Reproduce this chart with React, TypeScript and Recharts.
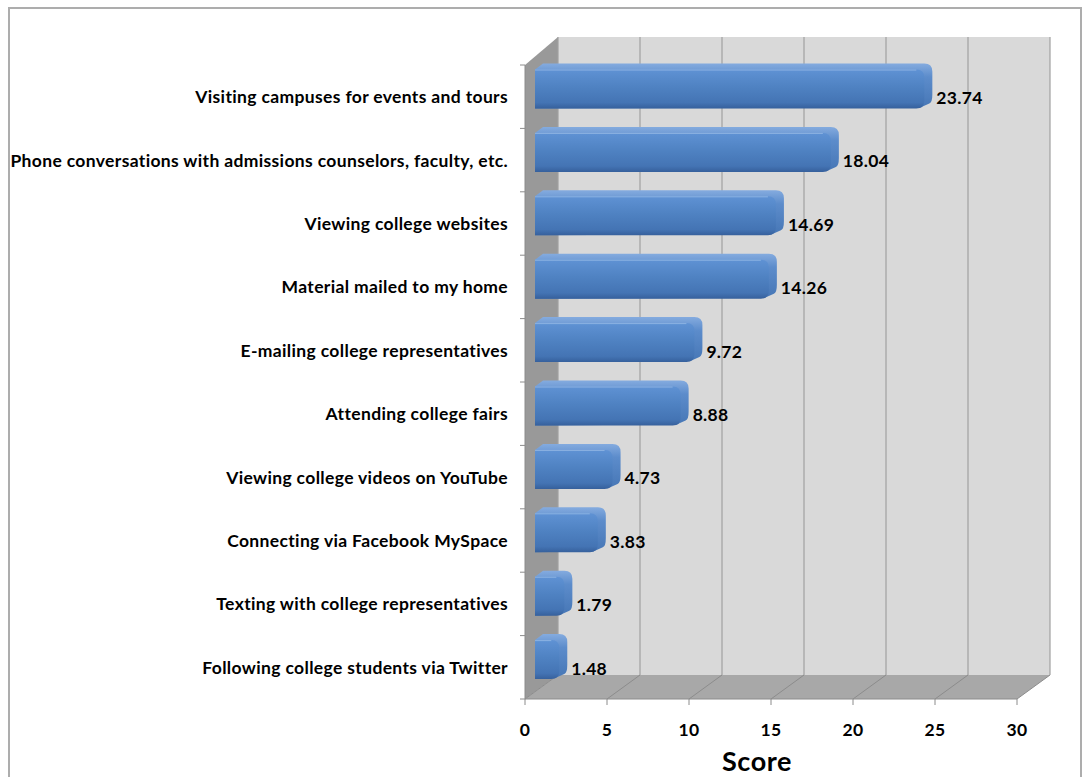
import React from 'react';
import { BarChart, Bar, XAxis, YAxis, LabelList, usePlotArea } from 'recharts';

const CATEGORIES = [
  'Visiting campuses for events and tours',
  'Phone conversations with admissions counselors, faculty, etc.',
  'Viewing college websites',
  'Material mailed to my home',
  'E-mailing college representatives',
  'Attending college fairs',
  'Viewing college videos on YouTube',
  'Connecting via Facebook MySpace',
  'Texting with college representatives',
  'Following college students via Twitter',
];
const SCORES = [23.74, 18.04, 14.69, 14.26, 9.72, 8.88, 4.73, 3.83, 1.79, 1.48];
const X_TICKS = [0, 5, 10, 15, 20, 25, 30];
const X_DOMAIN: [number, number] = [0, 30];
const AXIS_TITLE = 'Score';

const data = CATEGORIES.map((name, i) => ({ name, score: SCORES[i] }));

const FONT = 'Lato, "Open Sans", sans-serif';
const DX = 33;
const DY_TOP = -28;
const DY_BOT = -24;

function Walls() {
  const pa = usePlotArea();
  if (!pa) return null;
  const { x, y, width: w, height: h } = pa;
  const bottom = y + h;
  const n = CATEGORIES.length;
  return (
    <g>
      <rect x={x + DX} y={y + DY_TOP} width={w} height={h + DY_BOT - DY_TOP} fill="#d9d9d9" />
      <polygon
        points={`${x},${y} ${x + DX},${y + DY_TOP} ${x + DX},${bottom + DY_BOT} ${x},${bottom}`}
        fill="#999999"
      />
      <polygon
        points={`${x},${bottom} ${x + DX},${bottom + DY_BOT} ${x + w + DX},${bottom + DY_BOT} ${x + w},${bottom}`}
        fill="#a8a8a8"
      />
      {X_TICKS.map((t) => {
        const fx = x + ((t - X_DOMAIN[0]) / (X_DOMAIN[1] - X_DOMAIN[0])) * w;
        return (
          <g key={t}>
            <line x1={fx + DX} x2={fx + DX} y1={y + DY_TOP} y2={bottom + DY_BOT} stroke="#a0a0a0" strokeWidth={1.2} />
            <line x1={fx} x2={fx + DX} y1={bottom} y2={bottom + DY_BOT} stroke="#8c8c8c" strokeWidth={1} />
          </g>
        );
      })}
      {Array.from({ length: n + 1 }).map((_, i) => (
        <line key={i} x1={x - 5} x2={x} y1={y + (i * h) / n} y2={y + (i * h) / n} stroke="#8c8c8c" />
      ))}
    </g>
  );
}

function Bar3D(props: any) {
  const { x, y, width, height } = props;
  if (width == null || width <= 0) return null;
  const c = y + height / 2;
  const L = x + 10;
  const R = x + 10 + width;
  const T = c - 27;
  const B = c + 12;
  const r = 8;
  const ox = 8;
  const oy = -6;
  const ext = `M ${L} ${T} L ${L + ox} ${T + oy} L ${R + ox - r} ${T + oy} Q ${R + ox} ${T + oy} ${R + ox} ${T + oy + r} L ${R + ox} ${B + oy - r} Q ${R + ox} ${B + oy} ${R + ox - 3} ${B + oy + 1} L ${R - r + 4} ${B - 1} L ${L} ${B} Z`;
  const face = `M ${L} ${T} L ${R - r} ${T} Q ${R} ${T} ${R} ${T + r} L ${R} ${B - r} Q ${R} ${B} ${R - r} ${B} L ${L} ${B} Z`;
  return (
    <g>
      <path d={ext} fill="url(#capGrad)" />
      <path d={face} fill="url(#faceGrad)" />
      <line x1={L} x2={R - r} y1={T + 0.5} y2={T + 0.5} stroke="#8db3e2" strokeWidth={1} />
    </g>
  );
}

function ValueLabel(props: any) {
  const { x, y, width, height, value } = props;
  const c = y + height / 2;
  return (
    <text x={x + width + 22} y={c + 1} dominantBaseline="central" fontFamily={FONT} fontWeight={700} fontSize={17.5} letterSpacing={0.3} fill="#000">
      {Number(value).toFixed(2)}
    </text>
  );
}

function YTick(props: any) {
  const { x, y, payload } = props;
  return (
    <text x={x} y={y} textAnchor="end" dominantBaseline="central" fontFamily={FONT} fontWeight={700} fontSize={17.5} letterSpacing={0.35} fill="#000">
      {payload.value}
    </text>
  );
}

function XTick(props: any) {
  const { x, y, payload } = props;
  return (
    <text x={x} y={y + 22} textAnchor="middle" dominantBaseline="central" fontFamily={FONT} fontWeight={700} fontSize={17.5} letterSpacing={0.3} fill="#000">
      {payload.value}
    </text>
  );
}

function AxisTitle(props: any) {
  const { viewBox } = props;
  if (!viewBox) return null;
  return (
    <text
      x={viewBox.x + viewBox.width / 2 - 14}
      y={viewBox.y + viewBox.height - 9}
      textAnchor="middle"
      dominantBaseline="central"
      fontFamily={FONT}
      fontWeight={700}
      fontSize={27}
      letterSpacing={0.6}
      fill="#000"
    >
      {AXIS_TITLE}
    </text>
  );
}

export default function App() {
  return (
    <div>
      <div
        style={{
          position: 'absolute',
          left: 8,
          top: 7,
          width: 1074,
          height: 770,
          border: '2px solid #adadad',
          borderBottom: 'none',
          boxSizing: 'border-box',
        }}
      />
      <div style={{ position: 'absolute', left: 0, top: 0 }}>
        <BarChart
          width={1083}
          height={777}
          data={data}
          layout="vertical"
          margin={{ top: 65, right: 66, bottom: 8, left: 10 }}
          barCategoryGap="30%"
        >
          <defs>
            <linearGradient id="faceGrad" x1="0" y1="0" x2="0" y2="1">
              <stop offset="0%" stopColor="#5f92d4" />
              <stop offset="45%" stopColor="#4f82c2" />
              <stop offset="85%" stopColor="#4474b4" />
              <stop offset="100%" stopColor="#36609c" />
            </linearGradient>
            <linearGradient id="capGrad" x1="0" y1="0" x2="0" y2="1">
              <stop offset="0%" stopColor="#84abdf" />
              <stop offset="30%" stopColor="#5c8ccb" />
              <stop offset="100%" stopColor="#4676b5" />
            </linearGradient>
          </defs>
          <Walls />
          <XAxis
            type="number"
            domain={X_DOMAIN}
            ticks={X_TICKS}
            interval={0}
            height={70}
            axisLine={{ stroke: '#8c8c8c' }}
            tickLine={{ stroke: '#8c8c8c' }}
            tick={<XTick />}
            label={<AxisTitle />}
          />
          <YAxis
            type="category"
            dataKey="name"
            width={515}
            axisLine={{ stroke: '#8c8c8c' }}
            tickLine={false}
            tickMargin={11}
            interval={0}
            tick={<YTick />}
          />
          <Bar dataKey="score" isAnimationActive={false} shape={<Bar3D />}>
            <LabelList dataKey="score" content={<ValueLabel />} />
          </Bar>
        </BarChart>
      </div>
    </div>
  );
}
